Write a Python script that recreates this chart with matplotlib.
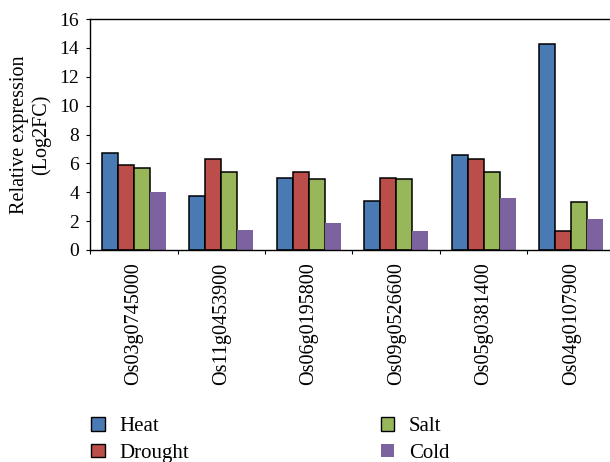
import matplotlib
matplotlib.use("Agg")
import matplotlib.pyplot as plt
import numpy as np
from matplotlib.patches import Patch

genes = ["Os03g0745000", "Os11g0453900", "Os06g0195800",
         "Os09g0526600", "Os05g0381400", "Os04g0107900"]
heat = [6.75, 3.75, 4.97, 3.36, 6.6, 14.24]
drought = [5.9, 6.27, 5.43, 4.97, 6.3, 1.35]
salt = [5.67, 5.37, 4.93, 4.9, 5.37, 3.3]
cold = [4.05, 1.37, 1.87, 1.33, 3.62, 2.16]
series_names = ["Heat", "Drought", "Salt", "Cold"]
colors = ["#4a7ab4", "#bb4d4b", "#98b75a", "#7d62a0"]

plt.rcParams['font.family'] = ['Liberation Serif', 'DejaVu Serif']

fig = plt.figure(figsize=(6.1, 4.62), dpi=100)
W, H = 610, 462
left, right, top, bottom = 90, 615, 19, 250
ax = fig.add_axes([left / W, (H - bottom) / H, (right - left) / W, (bottom - top) / H])

x = np.arange(len(genes))
bw = 0.183
series = [heat, drought, salt, cold]
for i, (vals, c, name) in enumerate(zip(series, colors, series_names)):
    pos = x + (i - 1.5) * bw
    if name == "Cold":
        ax.bar(pos, vals, width=bw, color=c, edgecolor='none', zorder=2)
    else:
        ax.bar(pos, vals, width=bw, color=c, edgecolor='black', linewidth=1.1, zorder=2)

ax.set_xlim(-0.5, len(genes) - 0.5)
ax.set_ylim(0, 16)
ax.set_yticks(np.arange(0, 17, 2))
ax.tick_params(axis='y', labelsize=14, length=3, width=0.8, pad=5, direction='out')

ax.set_xticks(np.arange(-0.5, len(genes), 1.0))
ax.set_xticklabels([])
ax.tick_params(axis='x', which='major', length=3, width=0.8, direction='out')
ax.set_xticks(x, minor=True)
ax.set_xticklabels(genes, minor=True, rotation=90, fontsize=14.5)
ax.tick_params(axis='x', which='minor', length=0, pad=9)

ax.spines['right'].set_visible(False)
for s in ['left', 'bottom', 'top']:
    ax.spines[s].set_linewidth(1.0)
    ax.spines[s].set_color('black')

ax.set_ylabel("Relative expression\n(Log2FC)", fontsize=14.5, labelpad=6, linespacing=1.15)

handles = []
for c, name in zip(colors, series_names):
    if name == "Cold":
        handles.append(Patch(facecolor=c, edgecolor='none', label=name))
    else:
        handles.append(Patch(facecolor=c, edgecolor='black', linewidth=1.0, label=name))

fig.legend(handles=handles, loc='upper left', bbox_to_anchor=(91 / W, (H - 417) / H),
           ncol=2, frameon=False, fontsize=15, handlelength=0.65, handleheight=0.65,
           handletextpad=0.7, labelspacing=0.35, columnspacing=9.2,
           borderpad=0, borderaxespad=0)

fig.savefig("out.png", dpi=100)
